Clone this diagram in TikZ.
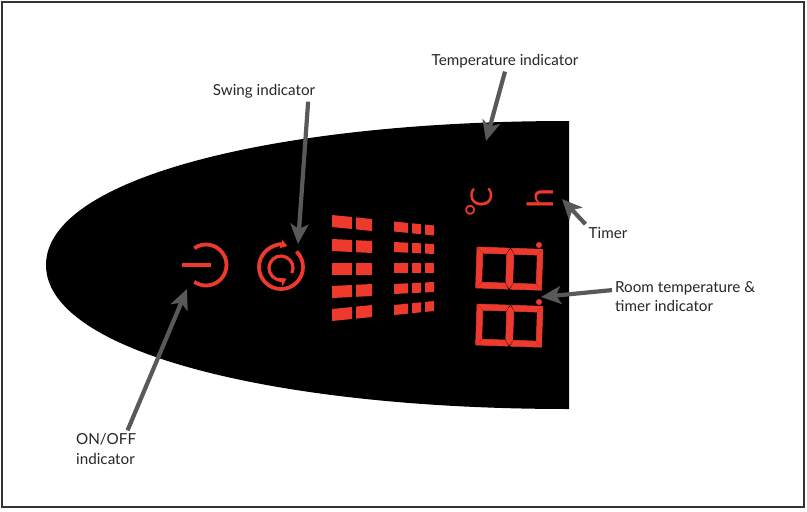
\documentclass[tikz,border=0pt]{standalone}
\usepackage{fontspec}
\setmainfont{Lato}
\usetikzlibrary{arrows.meta}
\definecolor{ledred}{HTML}{EE3A2C}
\definecolor{arrowgray}{HTML}{58595B}
\tikzset{
  label/.style={text=black!85,font=\fontsize{15.2}{19.5}\selectfont,inner sep=3pt,align=left},
  pointer/.style={draw=arrowgray,line width=4.2pt,-{Stealth[length=20pt,width=18pt,inset=5pt]}},
  ledline/.style={draw=ledred,line width=3.8pt},
  lcdtext/.style={text=ledred,inner sep=0pt,rotate=90},
  segment/.style={fill=ledred,draw=ledred,line width=.5pt},
  digit/.pic={
    \path[segment] (0.5,0) -- (32.5,0) -- (29,-6) -- (6.5,-6) -- cycle;
    \path[segment] (34.5,0) -- (65.5,0) -- (60,-6) -- (38,-6) -- cycle;
    \path[segment] (0.5,-41) -- (32.5,-41) -- (29,-35) -- (6.5,-35) -- cycle;
    \path[segment] (34.5,-41) -- (65.5,-41) -- (60,-35) -- (38,-35) -- cycle;
    \path[segment] (0,-0.5) -- (6,-6.5) -- (6,-34.5) -- (0,-40.5) -- cycle;
    \path[segment] (33.5,-1) -- (37,-6) -- (37,-35) -- (33.5,-40) -- (30,-35) -- (30,-6) -- cycle;
    \path[segment] (66,-0.5) -- (60.5,-6.5) -- (60.5,-34.5) -- (66,-40.5) -- cycle;
  }
}
\begin{document}
\begin{tikzpicture}[x=1pt,y=1pt]
  \useasboundingbox (0,-512) rectangle (807,0);
  \draw[black!80,line width=1.3pt] (2,-2) rectangle (804,-507);
  % panel
  \fill[black] (569,-121) .. controls (275,-121) and (46,-178) .. (46,-265)
    .. controls (46,-352) and (275,-409) .. (569,-409) -- cycle;
  % power icon
  \draw[ledline] (206,-265) ++(125:20.5pt) arc[start angle=125,end angle=-125,radius=20.5pt];
  \draw[ledline] (182,-265) -- (211,-265);
  % swing icon
  \draw[ledline,-{Stealth[length=7pt,width=9pt,inset=1pt]}] (281,-267) ++(45:22pt) arc[start angle=45,end angle=-287,radius=22pt];
  \draw[ledline,line width=3.2pt,-{Stealth[length=7pt,width=9pt,inset=1pt]}] (281,-268) ++(-25:12pt) arc[start angle=-25,end angle=298,radius=12pt];
  % bars
  \foreach \r/\s in {221/.1, 245/.05, 268.5/0, 292/-.05, 315/-.1} {
    \foreach \xa/\xb in {332/352, 356/372} {
      \fill[ledred] (\xa,{-(\r-6)-\s*(\xa-332)}) -- (\xb,{-(\r-6)-\s*(\xb-332)}) -- (\xb,{-(\r+6)-\s*(\xb-332)}) -- (\xa,{-(\r+6)-\s*(\xa-332)}) -- cycle;
    }
  }
  \foreach \r/\s in {226.5/.1, 247/.05, 268/0, 289/-.05, 310/-.1} {
    \foreach \xa/\xb in {394/408, 412/421, 425/434} {
      \fill[ledred] (\xa,{-(\r-5)-\s*(\xa-394)}) -- (\xb,{-(\r-5)-\s*(\xb-394)}) -- (\xb,{-(\r+5)-\s*(\xb-394)}) -- (\xa,{-(\r+5)-\s*(\xa-394)}) -- cycle;
    }
  }
  % display
  \pic[rotate=-2] at (477,-247) {digit};
  \pic[rotate=-2] at (477,-304) {digit};
  \fill[ledred] (539,-245) circle (3pt);
  \fill[ledred] (539,-302) circle (3pt);
  \node[lcdtext,font=\fontsize{30}{30}\selectfont] (degc) at (479.5,-202) {\raisebox{5pt}{°}\kern-3pt C};
  \node[lcdtext,font=\fontsize{36}{36}\selectfont] (hour) at (540,-198) {h};
  % labels
  \node[label] (temp) at (505,-61.5) {Temperature indicator};
  \node[label] (swing) at (264,-91.5) {Swing indicator};
  \node[label] (timer) at (608,-233) {Timer};
  \node[label,anchor=west] (room) at (612,-296.5) {Room temperature \&\\timer indicator};
  \node[label,anchor=west] (onoff) at (73,-449) {ON/OFF\\indicator};
  \coordinate (temptip) at (486,-141);
  \coordinate (swingtip) at (298,-244);
  \coordinate (timertip) at (562,-199);
  \coordinate (roomtip) at (541,-297);
  \coordinate (onofftip) at (187,-289);
  \draw[pointer] (temp.south) -- (temptip);
  \draw[pointer] (swing.-13) -- (swingtip);
  \draw[pointer] (timer.north west) -- (timertip);
  \draw[pointer] (room.175) -- (roomtip);
  \draw[pointer] (onoff.41) -- (onofftip);
\end{tikzpicture}
\end{document}
